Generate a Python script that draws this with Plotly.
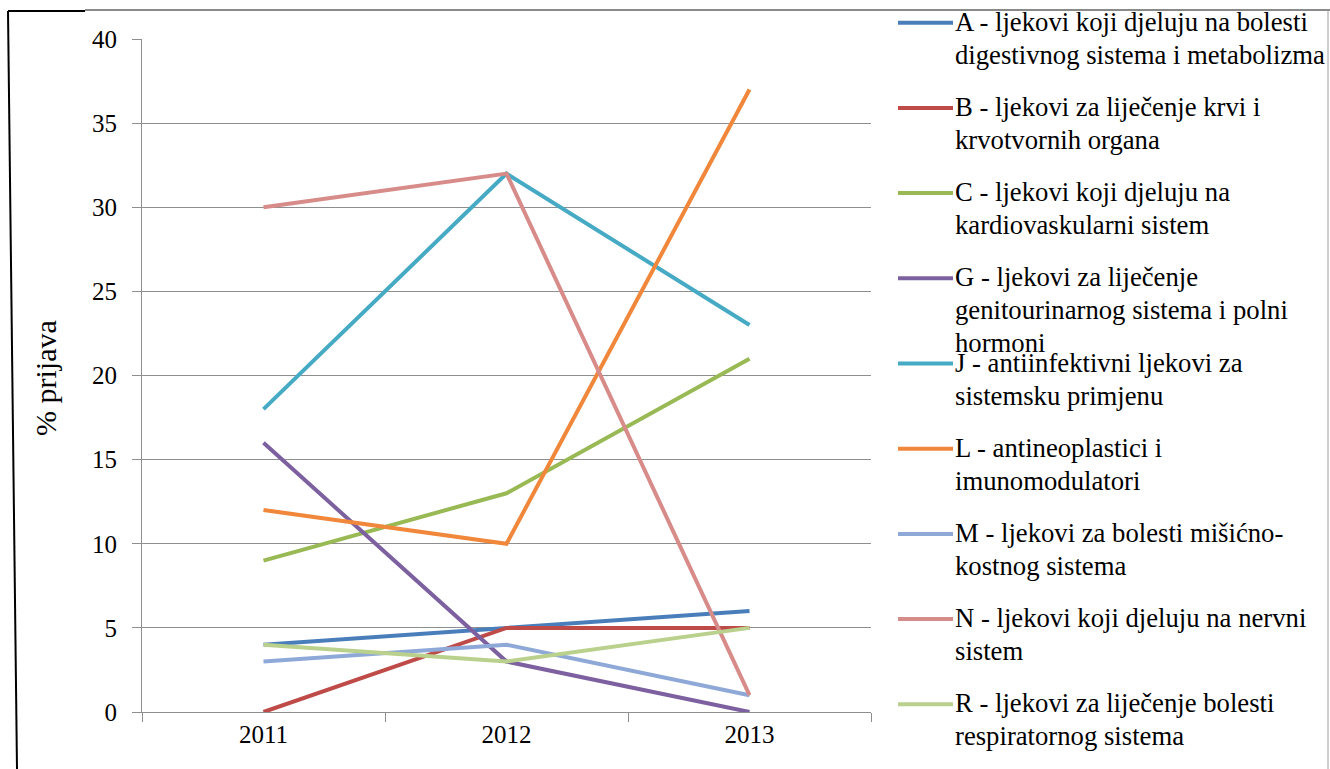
import plotly.graph_objects as go

# Years on the category axis
years = ["2011", "2012", "2013"]

# Share of reports (%) per ATC group
series_a = [4, 5, 6]
series_b = [0, 5, 5]
series_c = [9, 13, 21]
series_g = [16, 3, 0]
series_j = [18, 32, 23]
series_l = [12, 10, 37]
series_m = [3, 4, 1]
series_n = [30, 32, 1]
series_r = [4, 3, 5]

series_values = [series_a, series_b, series_c, series_g, series_j,
                 series_l, series_m, series_n, series_r]

# Legend labels, one list of text lines per group
legend_labels = [
    ["A - ljekovi koji djeluju na bolesti", "digestivnog sistema i metabolizma"],
    ["B - ljekovi za liječenje krvi i", "krvotvornih organa"],
    ["C - ljekovi koji djeluju na", "kardiovaskularni sistem"],
    ["G - ljekovi za liječenje", "genitourinarnog sistema i polni", "hormoni"],
    ["J - antiinfektivni ljekovi za", "sistemsku primjenu"],
    ["L - antineoplastici i", "imunomodulatori"],
    ["M - ljekovi za bolesti mišićno-", "kostnog sistema"],
    ["N - ljekovi koji djeluju na nervni", "sistem"],
    ["R - ljekovi za liječenje bolesti", "respiratornog sistema"],
]

colors = ["#4A7EBB", "#BE4B48", "#98B954", "#7D60A0", "#46AAC5",
          "#F0873A", "#8EA9D8", "#D78C8A", "#B9D18C"]

W, H = 1330, 769
SERIF = "Liberation Serif"


def px_x(p):
    return p / W


def px_y(p):
    return 1 - p / H


fig = go.Figure()
for vals, lab, col in zip(series_values, legend_labels, colors):
    fig.add_trace(go.Scatter(
        x=years, y=vals, mode="lines", name=" ".join(lab),
        line=dict(color=col, width=4), showlegend=False,
    ))

# Hand-built legend on the right: sample line + wrapped label lines
legend_top = 22.7
legend_step = 85.2
line_gap = 33
shapes = []
annotations = []
for i, (lab, col) in enumerate(zip(legend_labels, colors)):
    yc = legend_top + i * legend_step
    shapes.append(dict(type="line", xref="paper", yref="paper",
                       x0=px_x(898), x1=px_x(953), y0=px_y(yc), y1=px_y(yc),
                       line=dict(color=col, width=4)))
    for k, txt in enumerate(lab):
        annotations.append(dict(
            xref="paper", yref="paper", x=px_x(953), y=px_y(yc - 1 + k * line_gap),
            xanchor="left", yanchor="middle", text=txt, showarrow=False,
            font=dict(family=SERIF, size=26.7, color="#000000"),
        ))

# Y axis title
annotations.append(dict(
    xref="paper", yref="paper", x=px_x(45), y=px_y(378),
    xanchor="center", yanchor="middle", text="% prijava", textangle=-90,
    showarrow=False, font=dict(family=SERIF, size=30, color="#000000"),
))

# Outer frame
shapes += [
    dict(type="line", xref="paper", yref="paper", x0=px_x(85), x1=1,
         y0=px_y(10), y1=px_y(10), line=dict(color="#8A8A8A", width=2)),
    dict(type="line", xref="paper", yref="paper", x0=px_x(8), x1=px_x(85),
         y0=px_y(11), y1=px_y(11), line=dict(color="#000000", width=2)),
    dict(type="line", xref="paper", yref="paper", x0=px_x(8), x1=px_x(17),
         y0=px_y(11), y1=0, line=dict(color="#000000", width=2)),
    dict(type="line", xref="paper", yref="paper", x0=px_x(1328), x1=px_x(1328),
         y0=px_y(10), y1=0, line=dict(color="#A0A0A0", width=1)),
]

axis_gray = "#8E8E8E"
fig.update_layout(
    width=W, height=H,
    margin=dict(l=0, r=0, t=0, b=0, pad=0, autoexpand=False),
    paper_bgcolor="white", plot_bgcolor="white",
    showlegend=False,
    shapes=shapes, annotations=annotations,
    xaxis=dict(
        domain=[px_x(142), px_x(871)],
        type="category", tickson="boundaries", range=[-0.5, 2.5],
        ticks="outside", ticklen=9, tickcolor=axis_gray, tickwidth=1,
        showline=True, linecolor=axis_gray, linewidth=1,
        showgrid=False, zeroline=False, automargin=False,
        tickfont=dict(family=SERIF, size=25, color="#000000"),
    ),
    yaxis=dict(
        domain=[px_y(712), px_y(39)],
        range=[0, 40], dtick=5, tick0=0,
        ticks="outside", ticklen=9, tickcolor=axis_gray, tickwidth=1,
        showline=True, linecolor=axis_gray, linewidth=1,
        showgrid=True, gridcolor=axis_gray, gridwidth=1,
        zeroline=False, ticklabelstandoff=10, automargin=False,
        tickfont=dict(family=SERIF, size=25, color="#000000"),
    ),
)

fig.write_html("out.html")
